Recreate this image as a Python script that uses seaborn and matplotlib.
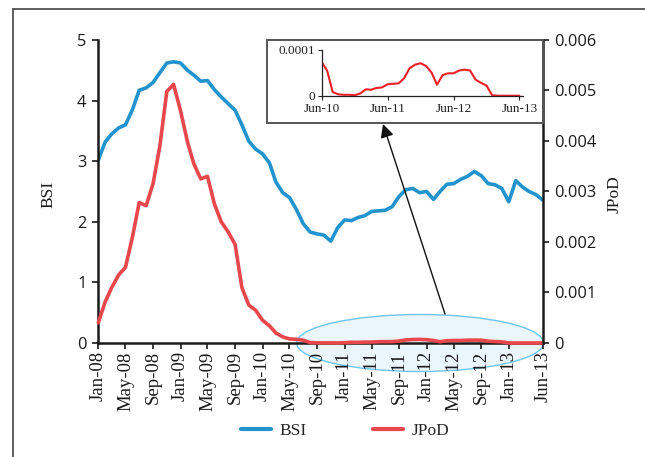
import numpy as np
import pandas as pd
import matplotlib
matplotlib.use('Agg')
import matplotlib.pyplot as plt
import matplotlib.dates as mdates
from matplotlib.patches import Ellipse, Rectangle
from matplotlib.lines import Line2D
from matplotlib.ticker import FuncFormatter, MultipleLocator
import seaborn as sns

# ── data (monthly, Jan-08 .. Jun-13) ─────────────────────────────────────────
MONTHS = pd.date_range('2008-01-01', '2013-06-01', freq='MS')

BSI = [3.02, 3.32, 3.45, 3.55, 3.60, 3.85, 4.17, 4.21, 4.30, 4.46,
       4.62, 4.64, 4.62, 4.50, 4.42, 4.32, 4.33, 4.18, 4.06, 3.95,
       3.84, 3.60, 3.33, 3.20, 3.12, 2.97, 2.66, 2.48, 2.40, 2.20,
       1.97, 1.83, 1.80, 1.78, 1.68, 1.90, 2.03, 2.02, 2.07, 2.10,
       2.17, 2.18, 2.19, 2.25, 2.42, 2.53, 2.55, 2.48, 2.50, 2.37,
       2.50, 2.62, 2.63, 2.70, 2.75, 2.83, 2.76, 2.63, 2.61, 2.55,
       2.33, 2.68, 2.58, 2.50, 2.45, 2.36]

# JPoD Jan-08 .. May-10, in units of 1e-3
JPOD_EARLY = [0.40, 0.82, 1.10, 1.35, 1.50, 2.10, 2.78, 2.72, 3.16, 3.90,
              4.98, 5.12, 4.60, 3.98, 3.55, 3.25, 3.30, 2.75, 2.40, 2.20,
              1.95, 1.10, 0.75, 0.65, 0.45, 0.34, 0.20, 0.12, 0.08]
# JPoD Jun-10 .. Jun-13, in units of 1e-4 (zoomed inset)
JPOD_LATE = [0.73, 0.55, 0.08, 0.03, 0.02, 0.02, 0.01, 0.05, 0.14, 0.13,
             0.17, 0.18, 0.25, 0.26, 0.27, 0.38, 0.60, 0.68, 0.71, 0.65,
             0.50, 0.24, 0.45, 0.49, 0.49, 0.55, 0.57, 0.55, 0.35, 0.28,
             0.22, 0.01, 0.00, 0.00, 0.00, 0.00, 0.00]

JPOD = np.concatenate([np.array(JPOD_EARLY) * 1e-3, np.array(JPOD_LATE) * 1e-4])

XTICKS = list(pd.date_range('2008-01-01', '2013-01-01', freq='4MS')) + [pd.Timestamp('2013-06-01')]
INSET_XTICKS = pd.to_datetime(['2010-06-01', '2011-06-01', '2012-06-01', '2013-06-01'])

BLUE = '#2393cd'
RED = '#e8474b'
RED_INSET = '#ee2027'
SERIF = 'Liberation Serif'
SANS = 'Open Sans'

sns.set_style('white')
plt.rcParams['font.family'] = ['Liberation Serif', 'DejaVu Serif']

fig = plt.figure(figsize=(6.45, 4.57), dpi=100)
ax = fig.add_axes([0.1524, 0.2495, 0.689, 0.663])
ax2 = ax.twinx()

df = pd.DataFrame({'date': MONTHS, 'BSI': BSI, 'JPoD': JPOD})

sns.lineplot(data=df, x='date', y='BSI', ax=ax, color=BLUE, lw=2.6, legend=False)
sns.lineplot(data=df, x='date', y='JPoD', ax=ax2, color=RED, lw=2.6, legend=False)
for ln in ax2.get_lines():
    ln.set_clip_on(False)

# axes styling
ax.set_xlim(MONTHS[0], MONTHS[-1])
ax.set_ylim(0, 5)
ax2.set_ylim(0, 0.006)
ax.yaxis.set_major_locator(MultipleLocator(1))
ax2.yaxis.set_major_locator(MultipleLocator(0.001))
ax2.yaxis.set_major_formatter(FuncFormatter(lambda v, p: '0' if abs(v) < 1e-12 else f'{v:.3f}'))
ax.set_xticks(XTICKS)
ax.xaxis.set_major_formatter(mdates.DateFormatter('%b-%y'))

for a in (ax, ax2):
    a.spines['top'].set_visible(False)
    for s in a.spines.values():
        s.set_linewidth(1.8)
        s.set_color('#1a1a1a')
ax.spines['right'].set_visible(False)
ax2.spines['left'].set_visible(False)
ax2.spines['bottom'].set_visible(False)

ax.tick_params(axis='x', direction='out', length=4, width=1.2, pad=2, labelrotation=90,
               labelsize=13.5, labelfontfamily=SERIF, bottom=True, colors='#1a1a1a')
ax.tick_params(axis='y', direction='out', length=4.5, width=1.2, pad=4,
               labelsize=11.8, labelfontfamily=SANS, left=True, colors='#1a1a1a')
ax2.tick_params(axis='y', direction='out', length=4.5, width=1.2, pad=4,
                labelsize=11.8, labelfontfamily=SANS, right=True, colors='#1a1a1a')

ax.set_xlabel('')
ax.set_ylabel('BSI', fontsize=12.5, fontfamily=SERIF, color='#1a1a1a')
ax.yaxis.set_label_coords(-0.094, 0.49)
ax2.set_ylabel('JPoD', fontsize=12.5, fontfamily=SERIF, color='#1a1a1a')
ax2.yaxis.set_label_coords(1.143, 0.49)

# highlight ellipse around the near-zero JPoD period
ell = Ellipse((420 / 645, 1 - 343 / 457), width=247 / 645, height=57 / 457,
              transform=fig.transFigure, facecolor='#ebf5fc', edgecolor='#6ec6ee',
              lw=1.0, zorder=0.5, clip_on=False)
ax.add_artist(ell)

# inset frame and inset axes
fig.patches.append(Rectangle((267 / 645, 1 - 122.7 / 457), 276 / 645, 82.7 / 457,
                             transform=fig.transFigure, fill=False,
                             edgecolor='#555555', lw=1.4, zorder=1))
axin = fig.add_axes([321.7 / 645, 1 - 95.7 / 457, (523 - 321.7) / 645, 45.7 / 457])
axin.patch.set_alpha(0)
inset_df = df[df['date'] >= INSET_XTICKS[0]]
sns.lineplot(data=inset_df, x='date', y='JPoD', ax=axin, color=RED_INSET, lw=1.5, legend=False)
axin.set_xlim(INSET_XTICKS[0], INSET_XTICKS[-1] + pd.Timedelta(days=20))
axin.set_ylim(0, 0.0001)
axin.set_yticks([0, 0.0001])
axin.set_yticklabels(['0', '0.0001'])
axin.set_xticks(INSET_XTICKS)
axin.xaxis.set_major_formatter(mdates.DateFormatter('%b-%y'))
axin.set_xlabel('')
axin.set_ylabel('')
for s in ('top', 'right'):
    axin.spines[s].set_visible(False)
for s in ('left', 'bottom'):
    axin.spines[s].set_linewidth(0.9)
    axin.spines[s].set_color('#222222')
axin.tick_params(direction='out', length=3, width=0.8, pad=2, labelsize=9.5,
                 labelfontfamily=SERIF, colors='#222222', left=True, bottom=True)

# arrow from ellipse to inset
ax.annotate('', xy=(383 / 645, 1 - 124 / 457), xytext=(445 / 645, 1 - 314 / 457),
            xycoords='figure fraction', textcoords='figure fraction',
            arrowprops=dict(arrowstyle='-|>', color='#111111', lw=1.0,
                            mutation_scale=20, shrinkA=0, shrinkB=0))

# legend
handles = [Line2D([], [], color=BLUE, lw=3), Line2D([], [], color=RED, lw=3)]
fig.legend(handles, ['BSI', 'JPoD'], loc='center', bbox_to_anchor=(0.535, 0.0575),
           ncol=2, frameon=False, prop={'family': SERIF, 'size': 12.5},
           handlelength=1.75, handletextpad=0.5, columnspacing=3.8)

# partial outer frame
fig.add_artist(Line2D([13 / 645, 1], [1 - 9 / 457, 1 - 9 / 457], transform=fig.transFigure,
                      color='#444444', lw=1.2))
fig.add_artist(Line2D([13 / 645, 13 / 645], [0, 1 - 9 / 457], transform=fig.transFigure,
                      color='#444444', lw=1.2))

fig.savefig('out.png', dpi=100)
